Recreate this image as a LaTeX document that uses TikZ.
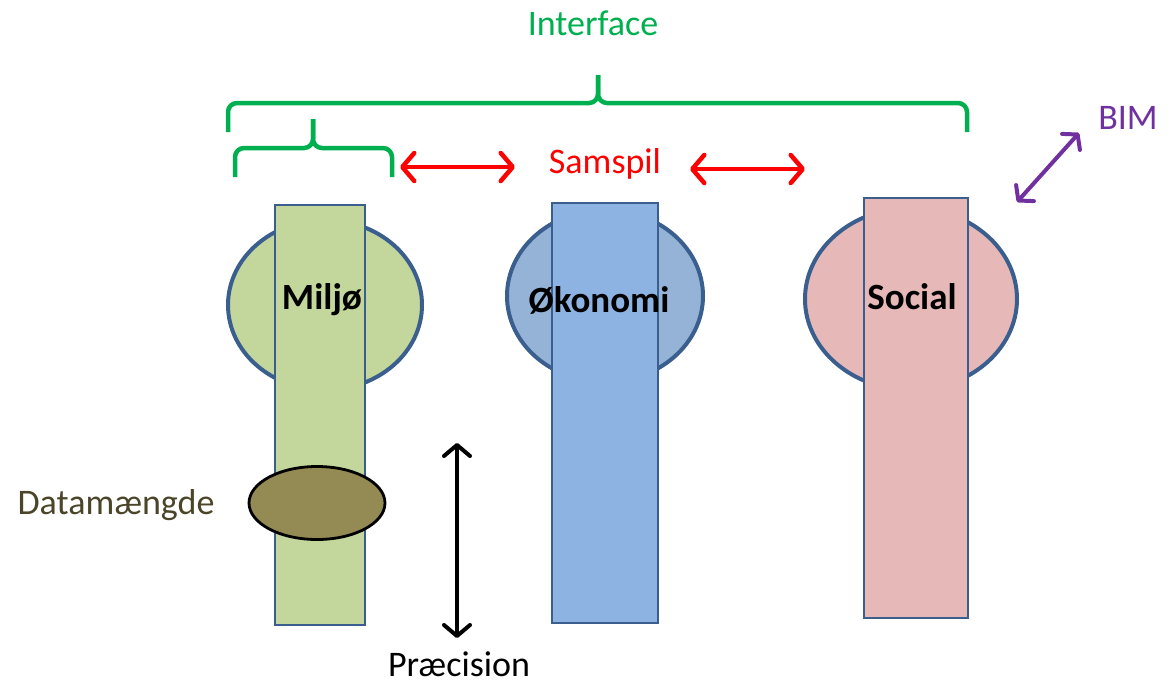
\documentclass[tikz,border=0pt]{standalone}
\usepackage{fontspec}
\setmainfont{Carlito}
\usetikzlibrary{shapes.geometric,arrows.meta}
\definecolor{frameblue}{HTML}{3A5F8F}
\definecolor{miljogreen}{HTML}{C3D69B}
\definecolor{okoring}{HTML}{95B3D7}
\definecolor{okobar}{HTML}{8DB3E2}
\definecolor{socialpink}{HTML}{E6B9B8}
\definecolor{dataolive}{HTML}{948A54}
\definecolor{datatext}{HTML}{4A4528}
\definecolor{bracegreen}{HTML}{00B050}
\definecolor{bimpurple}{HTML}{7030A0}
\begin{document}
\begin{tikzpicture}[x=1pt,y=-1pt,
  ring/.style={ellipse,draw=frameblue,line width=4pt,inner sep=0pt},
  bar/.style={rectangle,draw=frameblue,line width=2.8pt,inner sep=0pt},
  pillar/.style={font=\fontsize{37}{42}\selectfont\bfseries,inner sep=0pt},
  caption/.style={font=\fontsize{36}{41}\selectfont,inner sep=0pt},
  bracket/.style={draw=bracegreen,line width=4.5pt,rounded corners=9pt},
  widebarb/.tip={Straight Barb[length=12pt,width=28pt,round]},
  midbarb/.tip={Straight Barb[length=11pt,width=26pt,round]},
  smallbarb/.tip={Straight Barb[length=10pt,width=24pt,round]},
  link/.style={line width=4.5pt,widebarb-widebarb}]
\useasboundingbox (0,0) rectangle (1173,686);

% Miljø pillar
\node[ring,fill=miljogreen,minimum width=194pt,minimum height=170pt] (miljoring) at (325,305) {};
\node[bar,fill=miljogreen,minimum width=90pt,minimum height=420pt] (miljobar) at (320,415) {};
\node[pillar] (miljo) at (322,300) {Miljø};

% Økonomi pillar
\node[ring,fill=okoring,minimum width=196pt,minimum height=172pt] (okoring) at (605,296) {};
\node[bar,fill=okobar,minimum width=106pt,minimum height=420pt] (okobar) at (605,413) {};
\node[pillar] (oko) at (599,300) {Økonomi};

% Social pillar
\node[ring,fill=socialpink,minimum width=212pt,minimum height=182pt] (socring) at (911,299) {};
\node[bar,fill=socialpink,minimum width=104pt,minimum height=420pt] (socbar) at (916,408) {};
\node[pillar] (social) at (912,297) {Social};

% amount of data on the Miljø bar
\node[ellipse,draw=black,line width=2.8pt,fill=dataolive,inner sep=0pt,
      minimum width=136pt,minimum height=73pt] (data) at (317,503) {};
\node[caption,text=datatext] (datalabel) at (116,505) {Datamængde};

% precision arrow
\coordinate (pTop) at (457,443);
\coordinate (pBot) at (457,638);
\draw[line width=4pt,midbarb-midbarb] (pTop) -- (pBot);
\node[caption] (precision) at (459,664) {Præcision};

% interface brackets
\draw[bracket] (228,132) |- (598,103) -- (598,75);
\draw[bracket] (598,75) -- (598,103) -| (967,132);
\draw[bracket] (235,177) |- (313,148) -- (313,119);
\draw[bracket] (313,119) -- (313,148) -| (392,177);
\node[caption,text=bracegreen] (interface) at (593,23) {Interface};

% interplay arrows
\node[caption,text=red] (samspil) at (605,164) {Samspil};
\coordinate (s1a) at (400,167);
\coordinate (s1b) at (515,167);
\coordinate (s2a) at (690,169);
\coordinate (s2b) at (805,169);
\draw[link,red] (s1a) -- (s1b);
\draw[link,red] (s2a) -- (s2b);

% BIM
\node[caption,text=bimpurple] (bim) at (1128,118) {BIM};
\coordinate (b1) at (1017,202);
\coordinate (b2) at (1079,133);
\draw[line width=4pt,bimpurple,smallbarb-smallbarb] (b1) -- (b2);
\end{tikzpicture}
\end{document}
